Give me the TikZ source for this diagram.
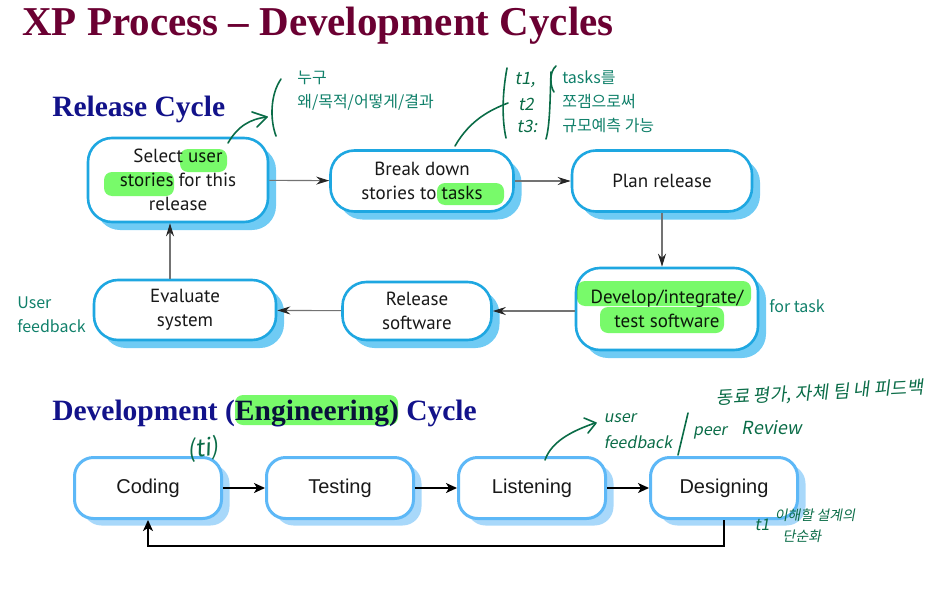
\documentclass[tikz,border=0pt]{standalone}
\usepackage{fontspec}
\setmainfont{Liberation Serif}
\setsansfont{Liberation Sans}
\newfontfamily\myriad{PT Sans}
\newfontfamily\kor{Noto Sans CJK KR}
\newfontfamily\pen[FakeSlant=0.18]{Noto Sans CJK KR}
\usetikzlibrary{shapes,arrows,arrows.meta,shadows}

\definecolor{titlered}{HTML}{6B0032}
\definecolor{headblue}{HTML}{12128A}
\definecolor{relline}{HTML}{1EA7E1}
\definecolor{relshade}{HTML}{6FCBF4}
\definecolor{devline}{HTML}{5DB8F7}
\definecolor{devshade}{HTML}{A8D8FA}
\definecolor{notegreen}{HTML}{10806A}
\definecolor{inkgreen}{HTML}{0A6C47}
\definecolor{marker}{HTML}{78FA6A}

\begin{document}
\begin{tikzpicture}[x=1pt,y=-1pt,>=stealth',semithick,node distance=192pt]
\tikzstyle{release}=[draw=relline,line width=2.6pt,fill=white,rounded corners=24pt,
  align=center,text=black!90,font=\myriad\fontsize{19}{24}\selectfont,
  drop shadow={shadow xshift=8pt,shadow yshift=-8pt,fill=relshade,opacity=1}]
\tikzstyle{dev}=[draw=devline,line width=3pt,fill=white,rounded corners=19pt,
  minimum width=147pt,minimum height=61pt,text=black!90,
  font=\sffamily\fontsize{20}{24}\selectfont,
  drop shadow={shadow xshift=8pt,shadow yshift=-7pt,fill=devshade,opacity=1}]
\tikzstyle{flow}=[-{Stealth[length=13pt,width=8pt,color=black!85]},draw=black!55,line width=1.1pt]
\tikzstyle{devflow}=[-{Stealth[length=11pt,width=10pt,inset=3pt]},draw=black,line width=1.6pt]
\tikzstyle{heading}=[anchor=base west,inner sep=0pt,text=headblue,
  font=\bfseries\fontsize{29.5}{32}\selectfont]
\tikzstyle{remark}=[anchor=west,align=left,inner sep=0pt,text=notegreen,
  font=\kor\fontsize{16}{24}\selectfont]
\tikzstyle{ink}=[draw=inkgreen,line width=1.6pt,line cap=round,line join=round]
\tikzstyle{scrawl}=[text=inkgreen,inner sep=0pt,font=\pen\fontsize{16}{16}\selectfont]
\tikzstyle{highlight}=[fill=marker,blend mode=multiply,rounded corners=8pt]
\useasboundingbox (0,0) rectangle (933,610);

% headings
\node[anchor=base west,inner sep=0pt,text=titlered,
  font=\bfseries\fontsize{41}{44}\selectfont] (title) at (22,36) {XP Process -- Development Cycles};
\node[heading] (relhead) at (52,116) {Release Cycle};
\node[heading] (devhead) at (52,420) {Development (Engineering) Cycle};

% release cycle
\node[release,minimum width=180pt,minimum height=84pt] (select) at (178,180) {Select user\\stories for this\\release};
\node[release,minimum width=183pt,minimum height=61pt] (breakdown) at (422,181) {Break down\\stories to tasks};
\node[release,minimum width=180pt,minimum height=61pt] (plan) at (662,181) {Plan release};
\node[release,minimum width=182pt,minimum height=82pt] (develop) at (667,309) {Develop/integrate/\\test software};
\node[release,minimum width=149pt,minimum height=58pt] (relsoft) at (417,311) {Release\\software};
\node[release,minimum width=182pt,minimum height=60pt] (evaluate) at (185,310) {Evaluate\\system};
\path[flow] (select) edge (breakdown)
            (breakdown) edge (plan)
            (relsoft) edge (evaluate);
\draw[flow] (plan.south) -- (plan.south |- develop.north);
\draw[flow] (develop.west |- relsoft) -- (relsoft.east);
\draw[flow] ([xshift=-15pt]evaluate.north) -- ([xshift=-15pt]evaluate.north |- select.south);

% development cycle
\node[dev] (coding) at (148,488) {Coding};
\node[dev][right of=coding] (testing) {Testing};
\node[dev][right of=testing] (listening) {Listening};
\node[dev][right of=listening] (designing) {Designing};
\path[devflow] (coding) edge (testing)
               (testing) edge (listening)
               (listening) edge (designing);
\draw[devflow] (designing.south) -- ++(0,26) -| (coding.south);

% marker
\path[highlight] (180,149) rectangle (227,172);
\path[highlight] (104,172) rectangle (174,196);
\path[highlight] (437,183) rectangle (504,205);
\path[highlight] (577,281) rectangle (751,306);
\path[highlight] (600,307) rectangle (724,333);
\path[highlight] (235,395) rectangle (398,425);

% typed notes
\node[remark] (who) at (297,91) {누구\\왜/목적/어떻게/결과};
\node[remark] (split) at (562,102) {tasks를\\쪼갬으로써\\규모예측 가능};
\node[remark] (userfb) at (17,315) {User\\feedback};
\node[remark] (fortask) at (769,306) {for task};

% pen notes
\draw[ink] (228,143) .. controls (238,126) and (250,119) .. (267,117);
\draw[ink] (252,112) -- (267,117) -- (257,127);
\draw[ink] (281,79) .. controls (270,95) and (270,120) .. (276,136);
\draw[ink] (455,146) .. controls (470,120) and (490,110) .. (508,103);
\draw[ink] (507,68) .. controls (502,95) and (502,120) .. (506,138);
\draw[ink] (556,66) .. controls (549,72) and (550,86) .. (554,92);
\draw[ink] (551,72) .. controls (550,100) and (550,125) .. (546,139);
\node[scrawl,font=\pen\fontsize{17}{17}\selectfont] (t1) at (525,80) {t1,};
\node[scrawl,font=\pen\fontsize{17}{17}\selectfont] (t2) at (526,104) {t2};
\node[scrawl,font=\pen\fontsize{17}{17}\selectfont] (t3) at (527,126) {t3:};
\node[scrawl,font=\pen\fontsize{24}{24}\selectfont,rotate=8] (ti) at (203,449) {(ti)};
\draw[ink] (545,460) .. controls (552,440) and (575,430) .. (595,423);
\draw[ink] (584,418) -- (596,423) -- (588,433);
\node[scrawl] (pu) at (620,418) {user};
\node[scrawl] (pf) at (638,442) {feedback};
\draw[ink] (688,413) -- (678,455);
\node[scrawl] (pp) at (710,433) {peer};
\node[scrawl,font=\pen\fontsize{18}{18}\selectfont] (pr) at (772,428) {Review};
\node[scrawl,font=\pen\fontsize{18}{18}\selectfont,rotate=3] (peer) at (820,393) {동료 평가, 자체 팀 내 피드백};
\node[scrawl] (t1b) at (762,525) {t1};
\node[scrawl,font=\pen\fontsize{14}{14}\selectfont] (simple1) at (815,515) {이해할 설계의};
\node[scrawl,font=\pen\fontsize{14}{14}\selectfont] (simple2) at (802,536) {단순화};
\end{tikzpicture}
\end{document}
